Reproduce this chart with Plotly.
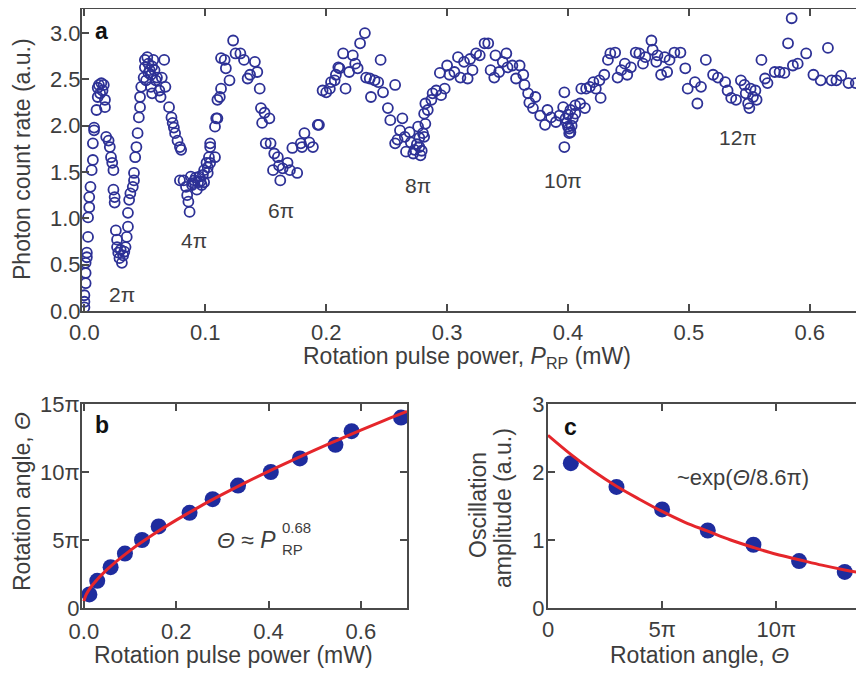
import plotly.graph_objects as go

# ---------------- Panel a data: photon count rate vs rotation pulse power ----------------
p_rp_1 = [0.000, 0.000, 0.000, 0.001, 0.001, 0.001, 0.002, 0.002, 0.003, 0.003, 0.004, 0.004, 0.005, 0.006,
          0.007, 0.007, 0.008, 0.008, 0.010, 0.011, 0.011, 0.012, 0.014, 0.016, 0.015, 0.017, 0.013, 0.017]
rate_1 = [0.04, 0.10, 0.17, 0.30, 0.41, 0.52, 0.58, 0.63, 0.80, 1.01, 1.12, 1.23, 1.34, 1.52,
          1.63, 1.81, 1.95, 1.98, 2.17, 2.31, 2.41, 2.44, 2.46, 2.44, 2.38, 2.28, 2.35, 2.20]

p_rp_2 = [0.018, 0.020, 0.021, 0.022, 0.023, 0.024, 0.024, 0.025, 0.025, 0.026, 0.027, 0.027, 0.028, 0.029,
          0.031, 0.030, 0.032, 0.033, 0.034, 0.035, 0.036, 0.036]
rate_2 = [1.88, 1.84, 1.77, 1.66, 1.60, 1.52, 1.31, 1.23, 1.17, 0.87, 0.77, 0.69, 0.63, 0.57,
          0.52, 0.66, 0.60, 0.64, 0.69, 0.80, 0.91, 1.06]

p_rp_3 = [0.037, 0.038, 0.040, 0.041, 0.041, 0.042, 0.043, 0.044, 0.045, 0.046, 0.046, 0.047, 0.049, 0.050,
          0.050, 0.052, 0.053, 0.054, 0.051, 0.055, 0.056, 0.057, 0.055, 0.059, 0.060, 0.062, 0.063, 0.066,
          0.064, 0.067, 0.053, 0.056, 0.058]
rate_3 = [1.20, 1.27, 1.34, 1.41, 1.49, 1.66, 1.77, 1.92, 2.09, 2.20, 2.31, 2.42, 2.52, 2.63,
          2.71, 2.74, 2.67, 2.60, 2.49, 2.42, 2.35, 2.71, 2.55, 2.49, 2.52, 2.38, 2.31, 2.71,
          2.52, 2.42, 2.57, 2.64, 2.60]

p_rp_4 = [0.070, 0.072, 0.073, 0.074, 0.075, 0.077, 0.079, 0.080, 0.079, 0.082, 0.084, 0.085, 0.086, 0.087,
          0.088, 0.089, 0.091, 0.093, 0.094, 0.095, 0.097, 0.098, 0.099, 0.101, 0.102, 0.103, 0.104,
          0.090, 0.092, 0.096]
rate_4 = [2.20, 2.09, 2.03, 1.98, 1.92, 1.84, 1.77, 1.74, 1.41, 1.41, 1.34, 1.25, 1.18, 1.07,
          1.45, 1.36, 1.41, 1.31, 1.39, 1.45, 1.36, 1.47, 1.52, 1.60, 1.55, 1.66, 1.77,
          1.38, 1.44, 1.40]

p_rp_5 = [0.099, 0.102, 0.104, 0.108, 0.104, 0.108, 0.110, 0.109, 0.110, 0.112, 0.113, 0.117, 0.113, 0.116,
          0.120, 0.123]
rate_5 = [1.39, 1.49, 1.60, 1.66, 1.81, 1.99, 2.08, 2.08, 2.28, 2.31, 2.40, 2.62, 2.73, 2.71,
          2.49, 2.92]

p_rp_6 = [0.125, 0.129, 0.132, 0.135, 0.137, 0.141, 0.143, 0.145, 0.146, 0.149, 0.147, 0.153, 0.150, 0.154,
          0.157, 0.160, 0.161, 0.156, 0.164, 0.162, 0.168, 0.170, 0.176]
rate_6 = [2.78, 2.78, 2.71, 2.51, 2.55, 2.69, 2.58, 2.40, 2.19, 2.14, 2.03, 2.08, 1.81, 1.81,
          1.70, 1.66, 1.57, 1.52, 1.54, 1.41, 1.60, 1.52, 1.49]

p_rp_7 = [0.172, 0.179, 0.182, 0.186, 0.189, 0.180, 0.193, 0.194]
rate_7 = [1.76, 1.81, 1.92, 1.82, 1.77, 1.77, 2.01, 2.01]

p_rp_8 = [0.197, 0.200, 0.203, 0.204, 0.207, 0.208, 0.210, 0.211, 0.214, 0.216, 0.219, 0.222, 0.224, 0.226,
          0.228, 0.232, 0.233, 0.236, 0.237, 0.240, 0.243, 0.245, 0.247]
rate_8 = [2.38, 2.36, 2.40, 2.47, 2.49, 2.55, 2.63, 2.62, 2.78, 2.40, 2.58, 2.76, 2.67, 2.62,
          2.89, 3.00, 2.52, 2.51, 2.31, 2.49, 2.47, 2.71, 2.36]

p_rp_9 = [0.251, 0.257, 0.253, 0.257, 0.261, 0.263, 0.265, 0.266, 0.269, 0.270, 0.273, 0.276, 0.277, 0.277,
          0.278, 0.280, 0.281, 0.259, 0.272, 0.275, 0.279]
rate_9 = [2.19, 2.44, 2.06, 1.81, 1.95, 2.08, 1.88, 1.72, 1.93, 1.82, 1.74, 1.99, 1.87, 1.77,
          1.68, 1.92, 1.88, 1.85, 1.70, 1.80, 1.73]

p_rp_10 = [0.282, 0.281, 0.284, 0.282, 0.287, 0.288, 0.291, 0.295, 0.298, 0.294, 0.300, 0.302, 0.306, 0.309,
           0.311, 0.314, 0.317, 0.319, 0.321, 0.324, 0.327, 0.331, 0.334]
rate_10 = [2.02, 2.13, 2.17, 2.24, 2.28, 2.35, 2.38, 2.33, 2.40, 2.57, 2.65, 2.55, 2.58, 2.74,
           2.52, 2.69, 2.51, 2.72, 2.60, 2.78, 2.76, 2.89, 2.89]

p_rp_11 = [0.336, 0.339, 0.340, 0.343, 0.346, 0.349, 0.350, 0.354, 0.357, 0.360, 0.363, 0.364, 0.367, 0.368,
           0.371, 0.373, 0.377, 0.381, 0.383, 0.386, 0.390, 0.393, 0.396, 0.397, 0.398, 0.397, 0.400, 0.401,
           0.402, 0.404, 0.402, 0.399, 0.401, 0.403, 0.400]
rate_11 = [2.60, 2.52, 2.76, 2.58, 2.69, 2.78, 2.63, 2.65, 2.51, 2.65, 2.55, 2.44, 2.35, 2.25,
           2.19, 2.31, 2.11, 2.01, 2.17, 2.09, 2.04, 2.11, 2.20, 2.36, 2.08, 1.77, 1.99, 1.92,
           2.17, 2.08, 1.93, 2.03, 1.97, 2.00, 2.12]

p_rp_12 = [0.406, 0.406, 0.410, 0.414, 0.411, 0.415, 0.418, 0.421, 0.423, 0.426, 0.427, 0.430, 0.433, 0.435,
           0.439, 0.441, 0.444, 0.447, 0.449, 0.452, 0.456]
rate_12 = [2.22, 2.13, 2.24, 2.19, 2.40, 2.40, 2.42, 2.47, 2.40, 2.49, 2.30, 2.55, 2.71, 2.78,
           2.79, 2.52, 2.60, 2.67, 2.55, 2.63, 2.79]

p_rp_13 = [0.459, 0.462, 0.464, 0.469, 0.470, 0.473, 0.474, 0.477, 0.480, 0.482, 0.484, 0.488, 0.493, 0.497,
           0.499, 0.505, 0.507, 0.510, 0.514, 0.520, 0.524, 0.530, 0.532, 0.535, 0.539, 0.543, 0.546, 0.547,
           0.549, 0.550, 0.551, 0.553, 0.556, 0.555, 0.560, 0.563, 0.565, 0.571, 0.575, 0.579, 0.582, 0.585,
           0.586, 0.590, 0.597, 0.603, 0.609, 0.615, 0.618, 0.622, 0.626, 0.632, 0.638]
rate_13 = [2.78, 2.67, 2.74, 2.92, 2.82, 2.69, 2.76, 2.55, 2.74, 2.58, 2.71, 2.79, 2.79, 2.62,
           2.40, 2.47, 2.24, 2.42, 2.71, 2.55, 2.52, 2.47, 2.38, 2.30, 2.28, 2.49, 2.44, 2.35,
           2.24, 2.19, 2.40, 2.31, 2.28, 2.38, 2.71, 2.51, 2.46, 2.58, 2.58, 2.57, 2.89, 3.16,
           2.65, 2.67, 2.78, 2.55, 2.49, 2.84, 2.49, 2.49, 2.54, 2.46, 2.46]

p_rp_parts = [p_rp_1, p_rp_2, p_rp_3, p_rp_4, p_rp_5, p_rp_6, p_rp_7, p_rp_8, p_rp_9, p_rp_10, p_rp_11, p_rp_12, p_rp_13]
rate_parts = [rate_1, rate_2, rate_3, rate_4, rate_5, rate_6, rate_7, rate_8, rate_9, rate_10, rate_11, rate_12, rate_13]
p_rp = [v for part in p_rp_parts for v in part]
count_rate = [v for part in rate_parts for v in part]
assert len(p_rp) == len(count_rate)

# pi-labels in panel a
pi_labels = ["2π", "4π", "6π", "8π", "10π", "12π"]
pi_label_x = [0.031, 0.091, 0.163, 0.276, 0.396, 0.541]
pi_label_y = [0.18, 0.76, 1.09, 1.35, 1.41, 1.87]

# ---------------- Panel b data: rotation angle vs power (angle in units of pi) ----------------
b_power = [0.012, 0.029, 0.058, 0.089, 0.126, 0.162, 0.229, 0.279, 0.334, 0.405, 0.468, 0.545, 0.580, 0.687]
b_angle = [1, 2, 3, 4, 5, 6, 7, 8, 9, 10, 11, 12, 13, 14]
b_fit_power = [0.0, 0.005, 0.01, 0.02, 0.05, 0.10, 0.15, 0.20, 0.25, 0.30, 0.35, 0.40, 0.45, 0.50, 0.55,
               0.60, 0.65, 0.70]
b_fit_angle = [0.50, 0.98, 1.28, 1.75, 2.82, 4.22, 5.40, 6.46, 7.44, 8.35, 9.22, 10.05, 10.84, 11.61, 12.35,
               13.08, 13.78, 14.45]

# ---------------- Panel c data: oscillation amplitude vs rotation angle (units of pi) ----------------
c_angle = [1, 3, 5, 7, 9, 11, 13]
c_amp = [2.13, 1.78, 1.45, 1.14, 0.93, 0.69, 0.53]
c_fit_angle = [0, 1, 2, 3, 4, 5, 6, 7, 8, 9, 10, 11, 12, 13, 14]
c_fit_amp = [2.54, 2.26, 2.01, 1.79, 1.60, 1.42, 1.26, 1.13, 1.00, 0.89, 0.79, 0.71, 0.63, 0.56, 0.50]

# ---------------- Styling ----------------
FONT = "Liberation Sans, Arial, Helvetica, sans-serif"
BLUE_OPEN = "#2d3196"
BLUE_FILL = "#1e2c9e"
RED = "#e5262b"
TXT = "#3d3d3d"
AXC = "#4a4a4a"
OFF = 8            # page body margin of the browser
W, H = 864 - OFF, 673 - OFF


def px_x(p):
    return min(1.0, max(0.0, (p - OFF) / W))


def px_y(p):
    return min(1.0, max(0.0, 1 - (p - OFF) / H))


fig = go.Figure()

fig.add_trace(go.Scatter(
    x=p_rp, y=count_rate, mode="markers", xaxis="x", yaxis="y",
    marker=dict(symbol="circle-open", size=10, color=BLUE_OPEN, line=dict(width=1.8, color=BLUE_OPEN)),
    showlegend=False, hoverinfo="skip"))

fig.add_trace(go.Scatter(
    x=b_power, y=b_angle, mode="markers", xaxis="x2", yaxis="y2",
    marker=dict(symbol="circle", size=16, color=BLUE_FILL, line=dict(width=0)),
    showlegend=False, hoverinfo="skip"))
fig.add_trace(go.Scatter(
    x=b_fit_power, y=b_fit_angle, mode="lines", xaxis="x2", yaxis="y2",
    line=dict(color=RED, width=3, shape="spline"), showlegend=False, hoverinfo="skip"))

fig.add_trace(go.Scatter(
    x=c_angle, y=c_amp, mode="markers", xaxis="x3", yaxis="y3",
    marker=dict(symbol="circle", size=16, color=BLUE_FILL, line=dict(width=0)),
    showlegend=False, hoverinfo="skip"))
fig.add_trace(go.Scatter(
    x=c_fit_angle, y=c_fit_amp, mode="lines", xaxis="x3", yaxis="y3",
    line=dict(color=RED, width=3, shape="spline"), showlegend=False, hoverinfo="skip"))

common_axis = dict(
    showline=True, linecolor=AXC, linewidth=2, mirror="ticks",
    ticks="inside", ticklen=7, tickwidth=1.5, tickcolor=AXC,
    showgrid=False, zeroline=False, automargin=False,
    tickfont=dict(family=FONT, size=22, color=TXT),
)
xcommon = dict(common_axis, ticklabelstandoff=1)
ycommon = dict(common_axis, ticklabelstandoff=-5)

fig.update_layout(
    template="none",
    width=W, height=H,
    margin=dict(l=0, r=0, t=0, b=0, autoexpand=False),
    paper_bgcolor="white", plot_bgcolor="white",
    font=dict(family=FONT, color=TXT),
    showlegend=False,
    xaxis=dict(xcommon, domain=[px_x(82), px_x(863)], range=[-0.002, 0.644], anchor="y",
               tickvals=[0, 0.1, 0.2, 0.3, 0.4, 0.5, 0.6],
               ticktext=["0.0", "0.1", "0.2", "0.3", "0.4", "0.5", "0.6"]),
    yaxis=dict(ycommon, domain=[px_y(311), px_y(9)], range=[0, 3.26], anchor="x",
               tickvals=[0, 0.5, 1, 1.5, 2, 2.5, 3],
               ticktext=["0.0", "0.5", "1.0", "1.5", "2.0", "2.5", "3.0"]),
    xaxis2=dict(common_axis, domain=[px_x(82), px_x(407)], range=[-0.004, 0.70], anchor="y2",
                ticklabelstandoff=3,
                tickvals=[0, 0.2, 0.4, 0.6], ticktext=["0.0", "0.2", "0.4", "0.6"]),
    yaxis2=dict(common_axis, domain=[px_y(608), px_y(404)], range=[0, 15], anchor="x2",
                ticklabelstandoff=-4,
                tickvals=[0, 5, 10, 15], ticktext=["0", "5π", "10π", "15π"]),
    xaxis3=dict(xcommon, domain=[px_x(548), px_x(863)], range=[0, 13.8], anchor="y3",
                tickvals=[0, 5, 10], ticktext=["0", "5π", "10π"]),
    yaxis3=dict(common_axis, domain=[px_y(608), px_y(404)], range=[0, 3], anchor="x3",
                ticklabelstandoff=-3,
                tickvals=[0, 1, 2, 3], ticktext=["0", "1", "2", "3"]),
)

ann = []


def paper_text(text, x, y, size=23, color=TXT, angle=0, bold=False, xanchor="center"):
    ann.append(dict(text=("<b>%s</b>" % text) if bold else text, x=px_x(x), y=px_y(y),
                    xref="paper", yref="paper", showarrow=False, textangle=angle,
                    xanchor=xanchor, yanchor="middle",
                    font=dict(family=FONT, size=size, color=color)))


# panel letters
paper_text("a", 101, 31, size=23, color="#111111", bold=True)
paper_text("b", 102, 425, size=23, color="#111111", bold=True)
paper_text("c", 570, 427, size=23, color="#111111", bold=True)

# axis titles
paper_text("Rotation pulse power, <i>P</i><sub>RP</sub> (mW)", 467, 357, size=23)
paper_text("Photon count rate (a.u.)", 22, 159, size=23, angle=-90)
paper_text("Rotation angle, <i>Θ</i>", 22, 502, size=23, angle=-90)
paper_text("Rotation pulse power (mW)", 233, 655, size=23)
paper_text("Rotation angle, <i>Θ</i>", 699, 655, size=23)
paper_text("Oscillation", 478, 505, size=23, angle=-90)
paper_text("amplitude (a.u.)", 503, 508, size=23, angle=-90)

# fit formulas
paper_text("<i>Θ</i> ≈ <i>P</i>", 278, 540, size=23, xanchor="right")
paper_text("0.68", 280, 527, size=15, xanchor="left")
paper_text("RP", 280, 549, size=15, xanchor="left")
paper_text("~exp(<i>Θ</i>/8.6π)", 743, 477, size=22)

# pi labels in panel a (data coordinates)
for t, xv, yv in zip(pi_labels, pi_label_x, pi_label_y):
    ann.append(dict(text=t, x=xv, y=yv, xref="x", yref="y", showarrow=False,
                    font=dict(family=FONT, size=21, color=TXT)))

fig.update_layout(annotations=ann)
fig.write_html("out.html")
